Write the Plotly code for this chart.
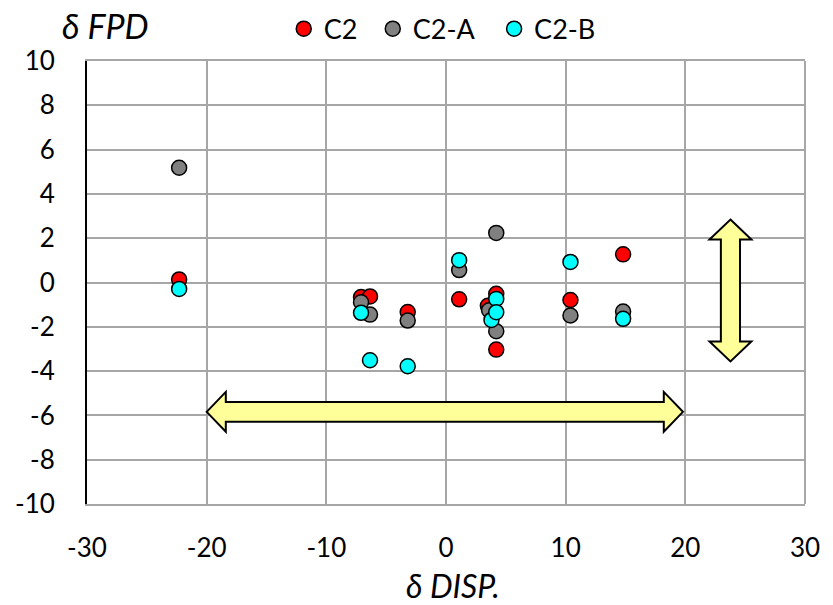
import plotly.graph_objects as go

# ---- data ----
c2_x = [-22.3, -7.1, -6.35, -3.2, 1.1, 3.5, 4.2, 4.2, 10.4, 14.8]
c2_y = [0.14, -0.66, -0.63, -1.33, -0.76, -1.05, -0.51, -3.03, -0.79, 1.27]

c2a_x = [-22.3, -7.1, -6.35, -3.2, 1.1, 3.6, 4.2, 4.2, 10.4, 14.8]
c2a_y = [5.18, -0.89, -1.45, -1.72, 0.56, -1.25, 2.24, -2.2, -1.49, -1.31]

c2b_x = [-22.3, -7.1, -6.35, -3.2, 1.1, 3.8, 4.2, 4.2, 10.4, 14.8]
c2b_y = [-0.29, -1.37, -3.51, -3.78, 1.01, -1.69, -0.74, -1.34, 0.93, -1.64]

series_names = ["C2", "C2-A", "C2-B"]
series_colors = ["#FF0000", "#808080", "#00FFFF"]

x_ticks = [-30, -20, -10, 0, 10, 20, 30]
y_ticks = [-10, -8, -6, -4, -2, 0, 2, 4, 6, 8, 10]

# decorative double arrows (data-coordinate geometry)
h_arrow = dict(x0=-20.0, x1=19.8, yc=-5.84, head=1.6, half_head=0.9, half_shaft=0.45)
v_arrow = dict(xc=23.77, y0=-3.56, y1=2.84, head=0.9, half_head=1.75, half_shaft=0.8)

FONT = "Lato"

# each series gets its own legend so the entries sit where the reference has them
legend_ids = ["legend", "legend2", "legend3"]
legend_x = [0.274, 0.398, 0.567]

fig = go.Figure()
for xs, ys, name, col, lg in zip([c2_x, c2a_x, c2b_x], [c2_y, c2a_y, c2b_y],
                                 series_names, series_colors, legend_ids):
    fig.add_trace(go.Scatter(
        x=xs, y=ys, mode="markers", name=name, legend=lg,
        marker=dict(size=15, color=col, line=dict(color="black", width=1.5)),
    ))


def h_path(a):
    x0, x1, yc, h, hh, hs = a["x0"], a["x1"], a["yc"], a["head"], a["half_head"], a["half_shaft"]
    pts = [(x0, yc), (x0 + h, yc + hh), (x0 + h, yc + hs), (x1 - h, yc + hs), (x1 - h, yc + hh),
           (x1, yc), (x1 - h, yc - hh), (x1 - h, yc - hs), (x0 + h, yc - hs), (x0 + h, yc - hh)]
    return "M " + " L ".join(f"{p[0]},{p[1]}" for p in pts) + " Z"


def v_path(a):
    xc, y0, y1, h, hh, hs = a["xc"], a["y0"], a["y1"], a["head"], a["half_head"], a["half_shaft"]
    pts = [(xc, y1), (xc + hh, y1 - h), (xc + hs, y1 - h), (xc + hs, y0 + h), (xc + hh, y0 + h),
           (xc, y0), (xc - hh, y0 + h), (xc - hs, y0 + h), (xc - hs, y1 - h), (xc - hh, y1 - h)]
    return "M " + " L ".join(f"{p[0]},{p[1]}" for p in pts) + " Z"


for p in (h_path(h_arrow), v_path(v_arrow)):
    fig.add_shape(type="path", path=p, xref="x", yref="y",
                  fillcolor="#FFFF99", line=dict(color="black", width=2), layer="above")

# right border (gray)
fig.add_shape(type="line", xref="paper", yref="paper", x0=1, x1=1, y0=0, y1=1,
              line=dict(color="#A6A6A6", width=2), layer="below")

legend_common = dict(orientation="h", xanchor="left", y=1.072, yanchor="middle",
                     font=dict(family=FONT, size=27), bgcolor="rgba(0,0,0,0)",
                     itemsizing="trace")

fig.update_layout(
    width=833, height=605,
    margin=dict(l=87, r=28, t=61, b=101, autoexpand=False),
    paper_bgcolor="white", plot_bgcolor="white",
    font=dict(family=FONT, color="black", size=26),
    showlegend=True,
    legend=dict(x=legend_x[0], **legend_common),
    legend2=dict(x=legend_x[1], **legend_common),
    legend3=dict(x=legend_x[2], **legend_common),
    xaxis=dict(range=[-30, 30], tickvals=x_ticks, ticktext=[str(v) for v in x_ticks],
               showgrid=True, gridcolor="#A6A6A6", gridwidth=2, zeroline=False,
               showline=True, linecolor="#A6A6A6", linewidth=2, mirror=True,
               ticks="", ticklabelstandoff=20, tickfont=dict(family=FONT, size=26)),
    yaxis=dict(range=[-10, 10], tickvals=y_ticks, ticktext=[str(v) for v in y_ticks],
               showgrid=True, gridcolor="#A6A6A6", gridwidth=2, zeroline=False,
               showline=True, linecolor="black", linewidth=2,
               ticks="", ticklabelstandoff=25, tickfont=dict(family=FONT, size=26)),
    annotations=[
        dict(text="<i>δ FPD</i>", xref="paper", yref="paper", x=0.026, y=1.081,
             xanchor="center", yanchor="middle", showarrow=False,
             font=dict(family=FONT, size=34, color="black")),
        dict(text="<i>δ DISP.</i>", xref="paper", yref="paper", x=0.51, y=-0.184,
             xanchor="center", yanchor="middle", showarrow=False,
             font=dict(family=FONT, size=32, color="black")),
    ],
)

fig.write_html("out.html")
